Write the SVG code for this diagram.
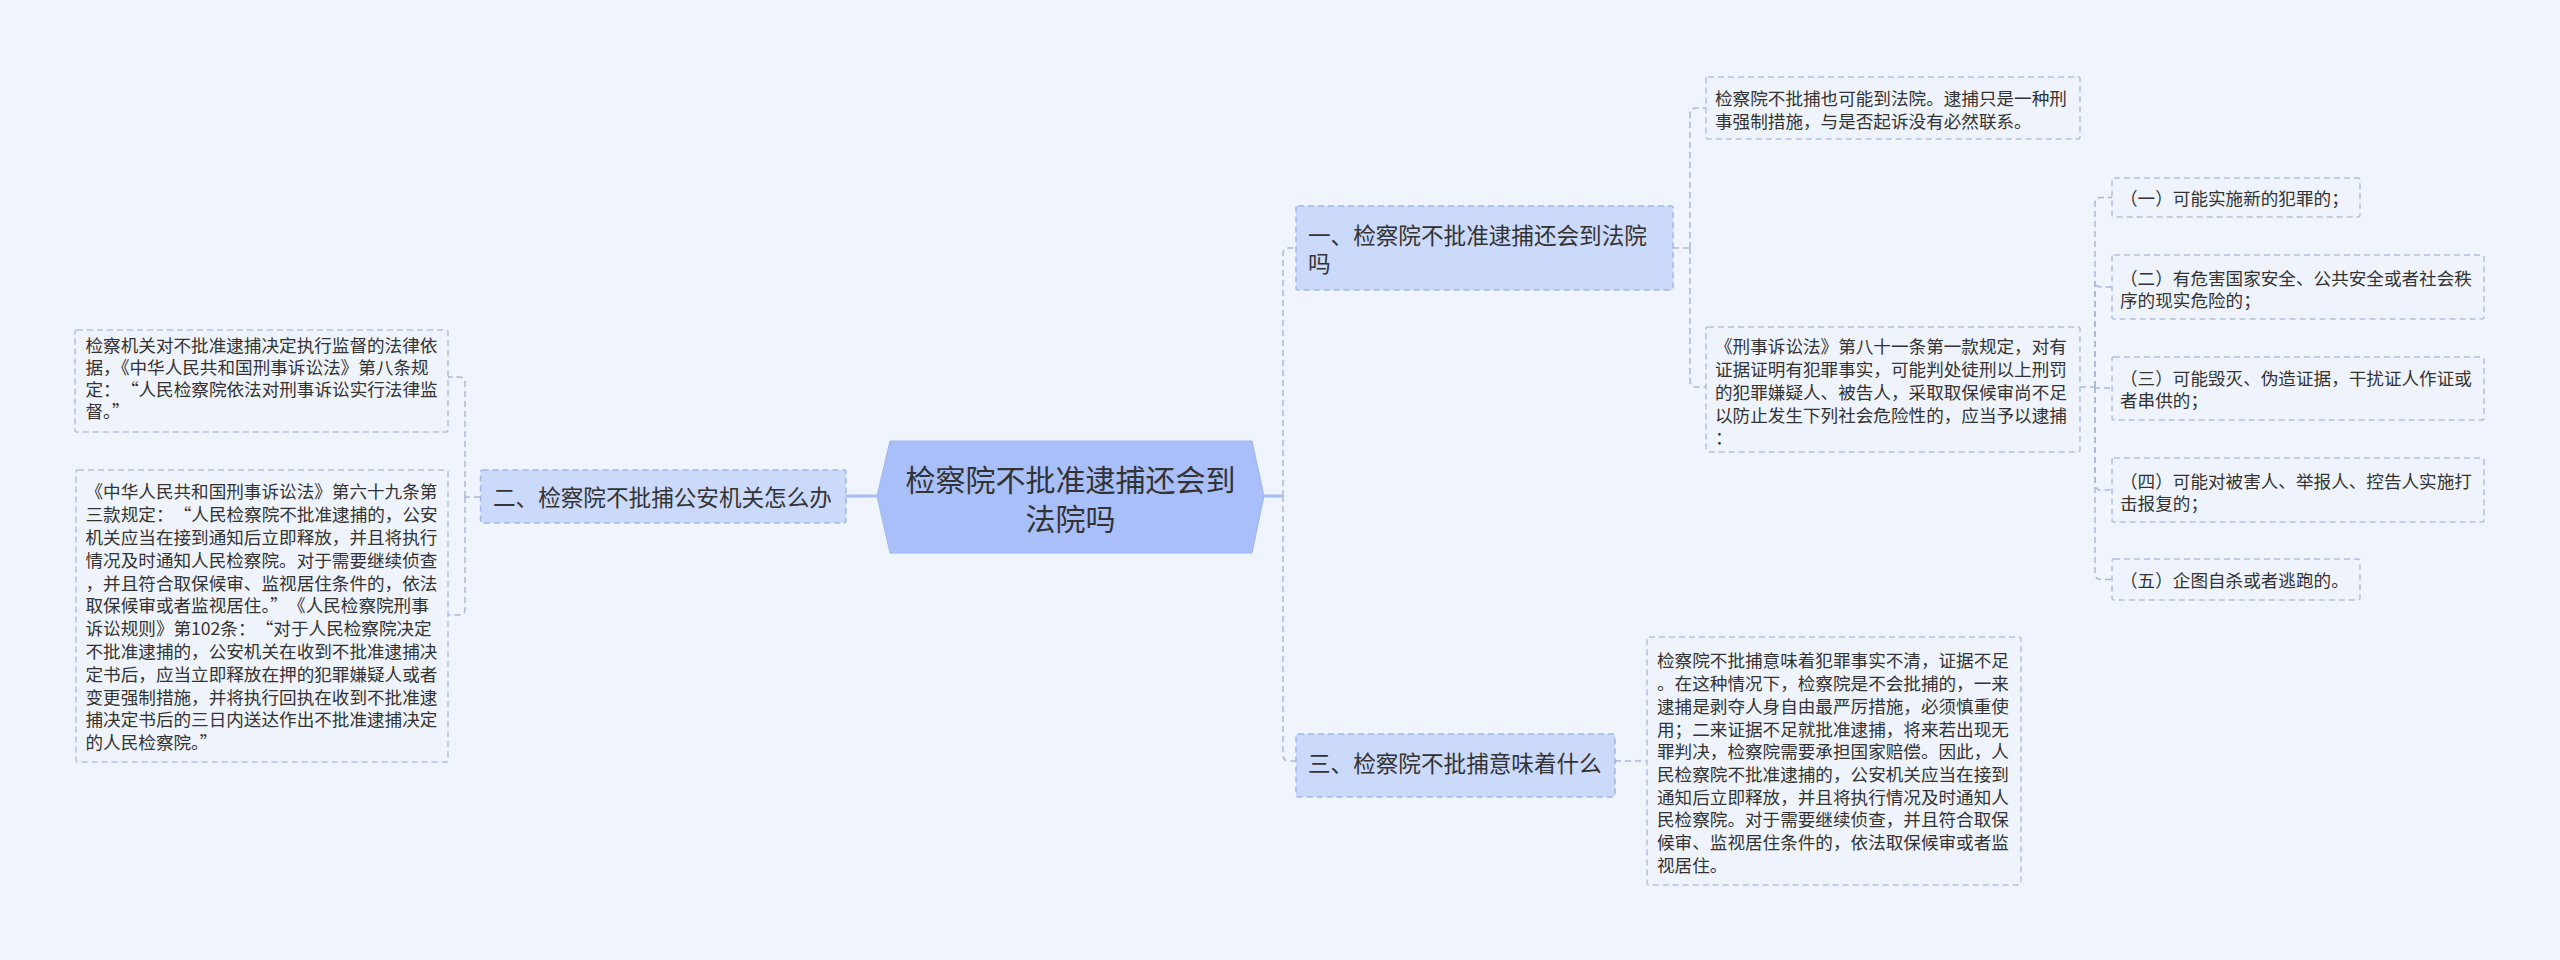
<svg xmlns="http://www.w3.org/2000/svg" width="2560" height="960" viewBox="0 0 2560 960">
<style>
text{font-family:"Noto Sans CJK SC","Noto Sans",sans-serif;fill:#333;}
.c{font-size:30px;}
.b{font-size:22.6px;}
.l{font-size:17.6px;}
.bbox{fill:#cbd9fb;stroke:#a3b6e6;stroke-width:1.5;stroke-dasharray:6 4;}
.lbox{fill:#eff3fc;stroke:#b3c0de;stroke-width:1.5;stroke-dasharray:6 4;}
.dash{fill:none;stroke:#a9b8dc;stroke-width:1.5;stroke-dasharray:6 4;}
.solid{fill:none;stroke:#a7befa;stroke-width:3;}
</style>
<rect x="0" y="0" width="2560" height="960" fill="#f0f4fc"/>
<g id="connectors">
<path class="solid" d="M877,496 H846"/>
<path class="solid" d="M1264,496 H1283"/>
<path class="dash" d="M1283,496 V254 Q1283,248 1289,248 H1296"/>
<path class="dash" d="M1283,496 V755 Q1283,761 1289,761 H1296"/>
<path class="dash" d="M480,497 H465"/>
<path class="dash" d="M465,497 V383 Q465,377 459,377 H448"/>
<path class="dash" d="M465,497 V609 Q465,615 459,615 H448"/>
<path class="dash" d="M1673,248 H1690"/>
<path class="dash" d="M1690,248 V114 Q1690,108 1696,108 H1706"/>
<path class="dash" d="M1690,248 V381 Q1690,387 1696,387 H1706"/>
<path class="dash" d="M1615,761 H1647"/>
<path class="dash" d="M2080,387 H2095"/>
<path class="dash" d="M2095,387 V203.5 Q2095,197.5 2101,197.5 H2112"/>
<path class="dash" d="M2095,387 V281 Q2095,287 2101,287 H2112"/>
<path class="dash" d="M2095,387 V388 H2112"/>
<path class="dash" d="M2095,387 V484 Q2095,490 2101,490 H2112"/>
<path class="dash" d="M2095,387 V573.5 Q2095,579.5 2101,579.5 H2112"/>
</g>
<g id="center">
<polygon points="877,496 890,441 1252,441 1264,496 1252,553 890,553" fill="#a8bffa" stroke="#9db5f2" stroke-width="1"/>
<text class="c" x="1070.5" y="491.4" text-anchor="middle">检察院不批准逮捕还会到</text>
<text class="c" x="1070.5" y="530.4" text-anchor="middle">法院吗</text>
</g>
<g id="branch1">
<rect class="bbox" x="1296" y="206" width="377" height="84" rx="2"/>
<text class="b" x="1308" y="243.6">一、检察院不批准逮捕还会到法院</text>
<text class="b" x="1308" y="271.9">吗</text>
</g>
<g id="branch2">
<rect class="bbox" x="480.5" y="470" width="365.5" height="53" rx="2"/>
<text class="b" x="493" y="505.6">二、检察院不批捕公安机关怎么办</text>
</g>
<g id="branch3">
<rect class="bbox" x="1296" y="734" width="319" height="63" rx="2"/>
<text class="b" x="1308" y="772">三、检察院不批捕意味着什么</text>
</g>
<g id="leaf-r1">
<rect class="lbox" x="1706" y="77" width="374" height="62" rx="2"/>
<text class="l" x="1715" y="105">检察院不批捕也可能到法院。逮捕只是一种刑</text>
<text class="l" x="1715" y="128.4">事强制措施，与是否起诉没有必然联系。</text>
</g>
<g id="leaf-r2">
<rect class="lbox" x="1706" y="327" width="374" height="125" rx="2"/>
<text class="l" x="1715" y="353.2">《刑事诉讼法》第八十一条第一款规定，对有</text>
<text class="l" x="1715" y="376">证据证明有犯罪事实，可能判处徒刑以上刑罚</text>
<text class="l" x="1715" y="398.8">的犯罪嫌疑人、被告人，采取取保候审尚不足</text>
<text class="l" x="1715" y="421.6">以防止发生下列社会危险性的，应当予以逮捕</text>
<text class="l" x="1715" y="444.4">：</text>
</g>
<g id="item1">
<rect class="lbox" x="2112" y="178" width="248" height="39" rx="2"/>
<text class="l" x="2120" y="205">（一）可能实施新的犯罪的；</text>
</g>
<g id="item2">
<rect class="lbox" x="2112" y="255" width="372" height="64" rx="2"/>
<text class="l" x="2120" y="285">（二）有危害国家安全、公共安全或者社会秩</text>
<text class="l" x="2120" y="306.7">序的现实危险的；</text>
</g>
<g id="item3">
<rect class="lbox" x="2112" y="357" width="372" height="63" rx="2"/>
<text class="l" x="2120" y="385">（三）可能毁灭、伪造证据，干扰证人作证或</text>
<text class="l" x="2120" y="406.7">者串供的；</text>
</g>
<g id="item4">
<rect class="lbox" x="2112" y="458" width="372" height="64" rx="2"/>
<text class="l" x="2120" y="488.4">（四）可能对被害人、举报人、控告人实施打</text>
<text class="l" x="2120" y="510">击报复的；</text>
</g>
<g id="item5">
<rect class="lbox" x="2112" y="559" width="248" height="41" rx="2"/>
<text class="l" x="2120" y="586.5">（五）企图自杀或者逃跑的。</text>
</g>
<g id="leaf-l1">
<rect class="lbox" x="75" y="330" width="373" height="102" rx="2"/>
<text class="l" x="85.5" y="352.2">检察机关对不批准逮捕决定执行监督的法律依</text>
<text class="l" x="85.5" y="374.2">据，《中华人民共和国刑事诉讼法》第八条规</text>
<text class="l" x="85.5" y="396.2">定：<tspan dx="9">“</tspan>人民检察院依法对刑事诉讼实行法律监</text>
<text class="l" x="85.5" y="418.2">督。”</text>
</g>
<g id="leaf-l2">
<rect class="lbox" x="76" y="470" width="372" height="292" rx="2"/>
<text class="l" x="85.5" y="498.4">《中华人民共和国刑事诉讼法》第六十九条第</text>
<text class="l" x="85.5" y="521.2">三款规定：<tspan dx="9">“</tspan>人民检察院不批准逮捕的，公安</text>
<text class="l" x="85.5" y="544">机关应当在接到通知后立即释放，并且将执行</text>
<text class="l" x="85.5" y="566.8">情况及时通知人民检察院。对于需要继续侦查</text>
<text class="l" x="85.5" y="589.6">，并且符合取保候审、监视居住条件的，依法</text>
<text class="l" x="85.5" y="612.4">取保候审或者监视居住。”<tspan dx="9">《</tspan>人民检察院刑事</text>
<text class="l" x="85.5" y="635.2">诉讼规则》第102条：<tspan dx="9">“</tspan>对于人民检察院决定</text>
<text class="l" x="85.5" y="658">不批准逮捕的，公安机关在收到不批准逮捕决</text>
<text class="l" x="85.5" y="680.8">定书后，应当立即释放在押的犯罪嫌疑人或者</text>
<text class="l" x="85.5" y="703.6">变更强制措施，并将执行回执在收到不批准逮</text>
<text class="l" x="85.5" y="726.4">捕决定书后的三日内送达作出不批准逮捕决定</text>
<text class="l" x="85.5" y="749.2">的人民检察院。”</text>
</g>
<g id="leaf-b">
<rect class="lbox" x="1647" y="637" width="374" height="248" rx="2"/>
<text class="l" x="1657" y="667.4">检察院不批捕意味着犯罪事实不清，证据不足</text>
<text class="l" x="1657" y="690.1">。在这种情况下，检察院是不会批捕的，一来</text>
<text class="l" x="1657" y="712.8">逮捕是剥夺人身自由最严厉措施，必须慎重使</text>
<text class="l" x="1657" y="735.5">用；二来证据不足就批准逮捕，将来若出现无</text>
<text class="l" x="1657" y="758.2">罪判决，检察院需要承担国家赔偿。因此，人</text>
<text class="l" x="1657" y="780.9">民检察院不批准逮捕的，公安机关应当在接到</text>
<text class="l" x="1657" y="803.6">通知后立即释放，并且将执行情况及时通知人</text>
<text class="l" x="1657" y="826.3">民检察院。对于需要继续侦查，并且符合取保</text>
<text class="l" x="1657" y="849">候审、监视居住条件的，依法取保候审或者监</text>
<text class="l" x="1657" y="871.7">视居住。</text>
</g>
</svg>
